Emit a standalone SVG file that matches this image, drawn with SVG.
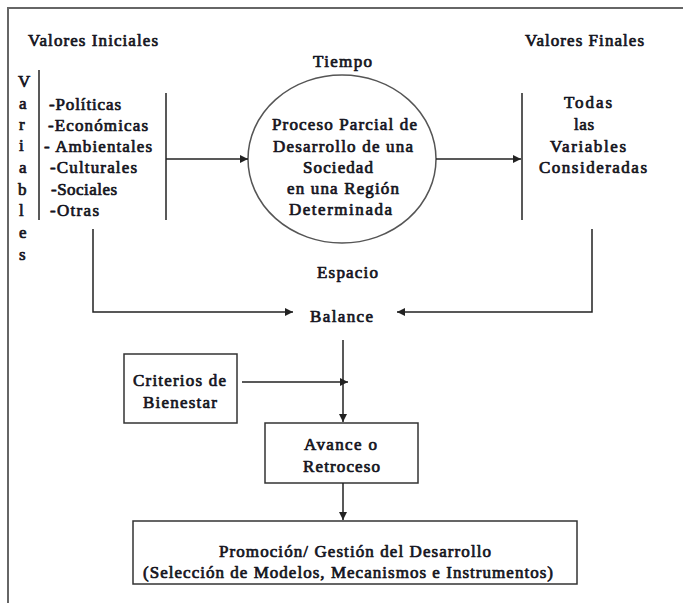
<svg xmlns="http://www.w3.org/2000/svg" width="683" height="603" viewBox="0 0 683 603">
<style>
text{font-family:'Liberation Serif','Times New Roman',serif;font-weight:normal;font-size:17px;fill:#141420;stroke:#141420;stroke-width:0.7;stroke-linejoin:round}
.ln{stroke:#222;stroke-width:1.5;fill:none}
.box{stroke:#333;stroke-width:1.5;fill:#fff}
</style>
<defs>
<marker id="ah" viewBox="0 0 10 10" refX="10" refY="5" markerWidth="8" markerHeight="8" markerUnits="userSpaceOnUse" orient="auto">
<path d="M0,0 L10,5 L0,10 z" fill="#222"/>
</marker>
</defs>
<rect width="683" height="603" fill="#fff"/>
<path d="M8,603 V8 H683" stroke="#666" stroke-width="2" fill="none"/>
<g id="valores-iniciales">
<text x="28" y="46" textLength="130" lengthAdjust="spacing">Valores Iniciales</text>
</g>
<g id="variables-label">
<text x="18" y="87">V</text>
<text x="19" y="109">a</text>
<text x="19" y="130">r</text>
<text x="19" y="151">i</text>
<text x="19" y="173">a</text>
<text x="18" y="195">b</text>
<text x="19" y="216">l</text>
<text x="19" y="238">e</text>
<text x="19" y="260">s</text>
</g>
<g id="lista-variables">
<line x1="39" y1="70" x2="39" y2="220" class="ln"/>
<line x1="166" y1="93" x2="166" y2="220" class="ln"/>
<text x="49" y="110" textLength="72" lengthAdjust="spacing">-Políticas</text>
<text x="48" y="131" textLength="100" lengthAdjust="spacing">-Económicas</text>
<text x="44" y="152" textLength="108" lengthAdjust="spacing">- Ambientales</text>
<text x="50" y="173" textLength="87" lengthAdjust="spacing">-Culturales</text>
<text x="51" y="195" textLength="66" lengthAdjust="spacing">-Sociales</text>
<text x="50" y="216" textLength="49" lengthAdjust="spacing">-Otras</text>
</g>
<g id="tiempo"><text x="313" y="67" textLength="59" lengthAdjust="spacing">Tiempo</text></g>
<g id="proceso">
<ellipse cx="342" cy="159" rx="94" ry="84" fill="#fff" stroke="#555" stroke-width="1.5"/>
<text x="272" y="130" textLength="145" lengthAdjust="spacing">Proceso Parcial de</text>
<text x="273" y="152" textLength="140" lengthAdjust="spacing">Desarrollo de una</text>
<text x="303" y="173" textLength="70" lengthAdjust="spacing">Sociedad</text>
<text x="287" y="194" textLength="112" lengthAdjust="spacing">en una Región</text>
<text x="289" y="215" textLength="103" lengthAdjust="spacing">Determinada</text>
</g>
<g id="valores-finales">
<text x="525" y="46" textLength="119" lengthAdjust="spacing">Valores Finales</text>
<line x1="522" y1="93" x2="522" y2="220" class="ln"/>
<text x="564" y="108" textLength="48" lengthAdjust="spacing">Todas</text>
<text x="574" y="130" textLength="20" lengthAdjust="spacing">las</text>
<text x="550" y="152" textLength="76" lengthAdjust="spacing">Variables</text>
<text x="539" y="173" textLength="108" lengthAdjust="spacing">Consideradas</text>
</g>
<g id="espacio"><text x="317" y="278" textLength="61" lengthAdjust="spacing">Espacio</text></g>
<g id="balance"><text x="310" y="322" textLength="63" lengthAdjust="spacing">Balance</text></g>
<g id="criterios">
<rect x="124" y="354" width="113" height="69" class="box"/>
<text x="133" y="386" textLength="93" lengthAdjust="spacing">Criterios de</text>
<text x="143" y="408" textLength="74" lengthAdjust="spacing">Bienestar</text>
</g>
<g id="avance">
<rect x="265" y="423" width="153" height="60" class="box"/>
<text x="304" y="450" textLength="73" lengthAdjust="spacing">Avance o</text>
<text x="303" y="472" textLength="77" lengthAdjust="spacing">Retroceso</text>
</g>
<g id="promocion">
<rect x="133" y="521" width="444" height="63" class="box"/>
<text x="219" y="557" textLength="272" lengthAdjust="spacing">Promoción/ Gestión del Desarrollo</text>
<text x="143" y="578" textLength="410" lengthAdjust="spacing">(Selección de Modelos, Mecanismos e Instrumentos)</text>
</g>
<g id="connectors">
<line x1="166" y1="159" x2="248" y2="159" class="ln" marker-end="url(#ah)"/>
<line x1="436" y1="159" x2="521" y2="159" class="ln" marker-end="url(#ah)"/>
<polyline points="93,229 93,312 293,312" class="ln" marker-end="url(#ah)"/>
<polyline points="592,229 592,312 397,312" class="ln" marker-end="url(#ah)"/>
<line x1="343" y1="340" x2="343" y2="422" class="ln" marker-end="url(#ah)"/>
<line x1="242" y1="382" x2="348" y2="382" class="ln" marker-end="url(#ah)"/>
<line x1="343" y1="483" x2="343" y2="520" class="ln" marker-end="url(#ah)"/>
</g>
</svg>
